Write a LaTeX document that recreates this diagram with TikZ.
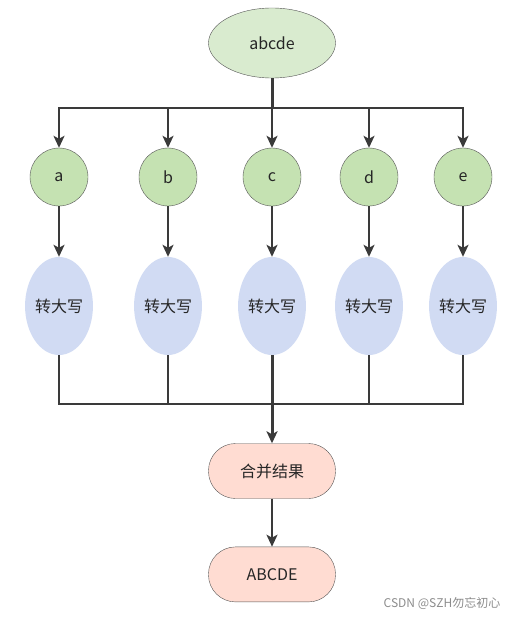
\documentclass[tikz,border=0pt]{standalone}
\usepackage{fontspec}
\setmainfont{Noto Sans CJK SC}
\usepackage{tikz}
\usetikzlibrary{arrows.meta}
\usetikzlibrary{positioning}
\usepgflibrary{shapes.geometric}
\definecolor{topgreen}{HTML}{D9EBCF}
\definecolor{chargreen}{HTML}{C5E2B2}
\definecolor{upblue}{HTML}{D1DBF3}
\definecolor{respink}{HTML}{FFDCD2}
\definecolor{linegray}{HTML}{3A3A3A}
\definecolor{edgegray}{HTML}{555555}

\begin{document}
\begin{tikzpicture}[x=1pt, y=-1pt,
      every node/.style={font=\fontsize{16}{19}\selectfont, text=black!85},
      source/.style ={ellipse, draw=edgegray, fill=topgreen, minimum width=127pt, minimum height=70pt, inner sep=0pt},
      letter/.style ={circle, draw=edgegray, fill=chargreen, minimum size=58pt, inner sep=0pt},
      upper/.style  ={ellipse, fill=upblue, minimum width=67pt, minimum height=98pt, inner sep=0pt},
      result/.style ={rectangle, rounded corners=27pt, draw=edgegray, fill=respink, minimum width=127pt, minimum height=55pt},
      link/.style   ={draw=linegray, line width=2pt, -{Stealth[length=12pt,width=11pt,inset=3pt]}},
      wire/.style   ={draw=linegray, line width=2pt},
      node distance=48pt
    ]
    \useasboundingbox (0,0) rectangle (523,618);

    \node [source] (src) at (272,43) {abcde} ;
    \coordinate (split) at (272,108) ;
    \coordinate (join) at (272,404) ;

    \foreach \n/\x in {a/59, b/168, c/272, d/369, e/463} {
      \node [letter] (c\n) at (\x,177) {\n} ;
      \node [upper] (u\n) at (\x,306) {转大写} ;
      \draw [link] (split) -| (c\n) ;
      \draw [link] (c\n) -- (u\n) ;
      \draw [wire] (u\n) |- (join) ;
    }

    \node [result] (merge) at (272,471) {合并结果} ;
    \node [result] (out) [below=of merge] {ABCDE} ;

    \draw [wire, line width=3pt] (src) -- (split) ;
    \draw [wire, line width=3pt] (uc) -- (join) ;
    \draw [link, line width=3pt] (join) -- (merge) ;
    \draw [link] (merge) -- (out) ;

    \node [font=\fontsize{12}{14}\selectfont, text=black!45] (mark) at (442,603) {CSDN @SZH勿忘初心} ;
  \end{tikzpicture}
\end{document}
